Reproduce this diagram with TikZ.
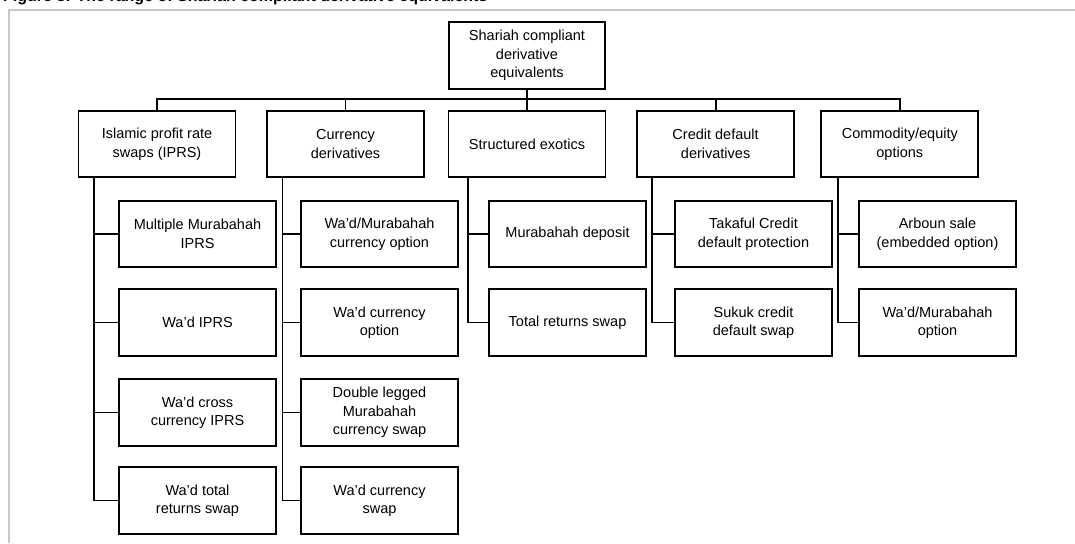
\documentclass[tikz,border=0pt]{standalone}
\usepackage{fontspec}
\setmainfont{Liberation Sans}
\definecolor{framegray}{HTML}{C8C8C8}
\tikzset{
  box/.style={draw, line width=1.8pt, rectangle, minimum width=157pt, minimum height=66.5pt,
    inner sep=0pt, align=center, font=\fontsize{14.5}{18.5}\selectfont},
  conn/.style={line width=1.8pt},
}
\begin{document}
\begin{tikzpicture}[x=1pt, y=-1pt]
\useasboundingbox (0,0) rectangle (1075,543);
\clip (0,0) rectangle (1075,543);
\fill[white] (0,0) rectangle (1075,543);
% title (cropped at the top of the picture, as in the reference)
\node[anchor=base west, inner sep=0pt, font=\fontsize{16}{19}\selectfont\bfseries] (title) at (3,1.5)
  {Figure 3: The range of Shariah compliant derivative equivalents};
% frame
\draw[framegray, line width=1.5pt] (9,543) -- (9,10) -- (1075,10);

% root
\node[box, minimum width=156pt, minimum height=67pt] (r) at (527,55.5) {Shariah compliant\\derivative\\equivalents};

% level 1
\node[box] (b1) at (157,144) {Islamic profit rate\\swaps (IPRS)};
\node[box] (b2) at (345.5,144) {Currency\\derivatives};
\node[box] (b3) at (527,144) {Structured exotics};
\node[box] (b4) at (715.6,144) {Credit default\\derivatives};
\node[box] (b5) at (899.8,144) {Commodity/equity\\options};

% column 1
\node[box] (c11) at (197.5,234) {Multiple Murabahah\\IPRS};
\node[box] (c12) at (197.5,322.5) {Wa'd IPRS};
\node[box] (c13) at (197.5,412.5) {Wa'd cross\\currency IPRS};
\node[box] (c14) at (197.5,500.5) {Wa'd total\\returns swap};
% column 2
\node[box] (c21) at (379.5,234) {Wa'd/Murabahah\\currency option};
\node[box] (c22) at (379.5,322.5) {Wa'd currency\\option};
\node[box] (c23) at (379.5,412.5) {Double legged\\Murabahah\\currency swap};
\node[box] (c24) at (379.5,500.5) {Wa'd currency\\swap};
% column 3
\node[box] (c31) at (567.5,234) {Murabahah deposit};
\node[box] (c32) at (567.5,322.5) {Total returns swap};
% column 4
\node[box] (c41) at (753.5,234) {Takaful Credit\\default protection};
\node[box] (c42) at (753.5,322.5) {Sukuk credit\\default swap};
% column 5
\node[box] (c51) at (937.5,234) {Arboun sale\\(embedded option)};
\node[box] (c52) at (937.5,322.5) {Wa'd/Murabahah\\option};

% top connectors
\coordinate (bar) at (527,99.3);
\draw[conn] (r.south) -- (b3.north);
\draw[conn] (b1.north) |- (bar) -| (b5.north);
\draw[conn] (b2.north) -- (b2.north |- bar);
\draw[conn] (b4.north) -- (b4.north |- bar);

% child spines
\coordinate (l1) at ([xshift=16pt]b1.south west);
\coordinate (l2) at ([xshift=16.3pt]b2.south west);
\coordinate (l3) at ([xshift=20.5pt]b3.south west);
\coordinate (l4) at ([xshift=16pt]b4.south west);
\coordinate (l5) at ([xshift=17.5pt]b5.south west);

\draw[conn] (l1) |- (c14.west);
\foreach \c in {c11,c12,c13} \draw[conn] (l1 |- \c.west) -- (\c.west);
\draw[conn] (l2) |- (c24.west);
\foreach \c in {c21,c22,c23} \draw[conn] (l2 |- \c.west) -- (\c.west);
\draw[conn] (l3) |- (c32.west);
\draw[conn] (l3 |- c31.west) -- (c31.west);
\draw[conn] (l4) |- (c42.west);
\draw[conn] (l4 |- c41.west) -- (c41.west);
\draw[conn] (l5) |- (c52.west);
\draw[conn] (l5 |- c51.west) -- (c51.west);
\end{tikzpicture}
\end{document}
